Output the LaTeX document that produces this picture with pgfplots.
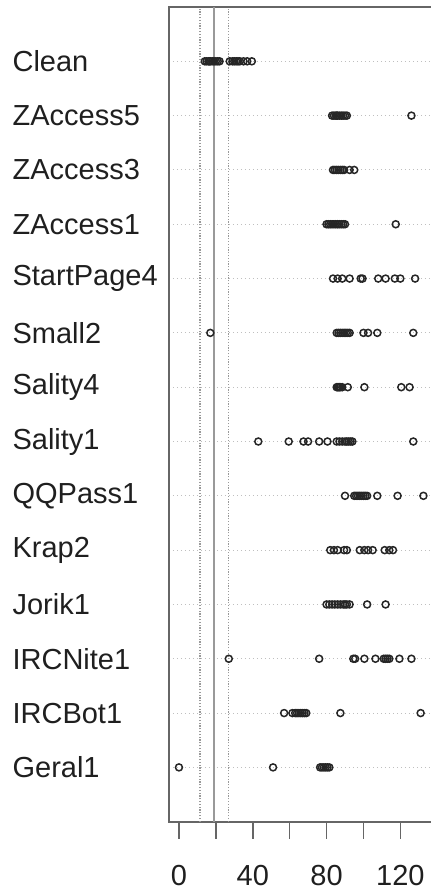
\documentclass[border=0pt]{standalone}
\usepackage{pgfplots}
\pgfplotsset{compat=1.18}
\usepackage{pgfplotstable}
\usepackage{fontspec}
\setmainfont{Liberation Sans}

\pgfplotstableread{
val row
14 14
15 14
16 14
16.5 14
17 14
18 14
19 14
20 14
21 14
22 14
27.5 14
29 14
30 14
31 14
32 14
33 14
35 14
37 14
39.5 14
83 13
84 13
85 13
85.5 13
86 13
87 13
88 13
89 13
90 13
91 13
126 13
83.5 12
84.5 12
85.5 12
86.5 12
87.5 12
88.5 12
89.5 12
92.5 12
95 12
80 11
81 11
82 11
83 11
84 11
85 11
86 11
87 11
88 11
89 11
90 11
117.5 11
83.5 10
86 10
88.5 10
92.5 10
98.5 10
99.5 10
108 10
112 10
117 10
120 10
128 10
17 9
85.5 9
86.5 9
87.5 9
88.5 9
89.5 9
90.5 9
91.5 9
92.5 9
100 9
102.5 9
107.5 9
127 9
85.5 8
86 8
86.5 8
87 8
87.5 8
88.5 8
91.5 8
100.5 8
120.5 8
125 8
43 7
59.5 7
67.5 7
70 7
76 7
80.5 7
85.5 7
87 7
88.5 7
90 7
91 7
92 7
93 7
94 7
127 7
90 6
95 6
96 6
97 6
98 6
99 6
100 6
101 6
102 6
107.5 6
118.5 6
132.5 6
82 5
84 5
86 5
89.5 5
91 5
98 5
100.5 5
102.5 5
105 5
111.5 5
114 5
116 5
80 4
81.5 4
83 4
84.5 4
86 4
87.5 4
89 4
90 4
91 4
92.5 4
102 4
112 4
27 3
76 3
94.5 3
95.5 3
100.5 3
106.5 3
111 3
112 3
113 3
114 3
119.5 3
126 3
57 2
61.5 2
63 2
64 2
65 2
66 2
67 2
68 2
69 2
87.5 2
131 2
0 1
51 1
76.5 1
77.5 1
78.5 1
79.5 1
80.5 1
81.5 1
}\pts

\begin{document}
\begin{tikzpicture}
\begin{axis}[
  at={(0,0)}, anchor=south west,
  scale only axis,
  width=134.5pt, height=407.35pt,
  xmin=-5.4, xmax=140.4,
  ymin=0, ymax=15,
  axis line style={black!60, line width=0.8pt},
  xtick={0,20,...,120},
  xticklabels={0,,40,,80,,120},
  xtick pos=bottom,
  tick align=outside,
  major tick length=8.4pt,
  xtick style={black!60, line width=0.8pt},
  ytick={1,...,14},
  yticklabels={Geral1,IRCBot1,IRCNite1,Jorik1,Krap2,QQPass1,Sality1,Sality4,Small2,StartPage4,ZAccess1,ZAccess3,ZAccess5,Clean},
  ytick style={draw=none},
  yticklabel style={anchor=west, xshift=-70pt, inner xsep=0pt, font=\fontsize{14.5}{17}\selectfont, black!88},
  xticklabel style={font=\fontsize{14.5}{17}\selectfont, black!88, yshift=-10pt},
  ymajorgrids,
  grid style={gray!50, line width=0.55pt, dash pattern=on 0.6pt off 1.4pt},
  clip=true,
]
\addplot[gray!80, line width=1pt] coordinates {(19.1,0) (19.1,15)};
\addplot[gray!80, line width=0.85pt, dash pattern=on 0.6pt off 0.8pt] coordinates {(11.4,0) (11.4,15)};
\addplot[gray!80, line width=0.85pt, dash pattern=on 0.6pt off 0.8pt] coordinates {(26.9,0) (26.9,15)};
\addplot[only marks, mark=o, mark size=1.75pt, mark options={black!85, line width=0.75pt}] table[x=val, y=row] {\pts};
\end{axis}
\pgfresetboundingbox
\useasboundingbox (-84.5pt,-33.65pt) rectangle (130.5pt,410.85pt);
\end{tikzpicture}
\end{document}
